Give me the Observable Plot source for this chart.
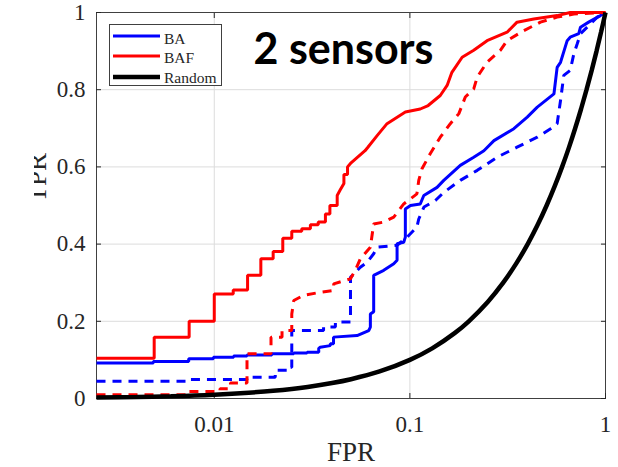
<!DOCTYPE html>
<html>
<head>
<meta charset="utf-8">
<script src="https://cdn.jsdelivr.net/npm/d3@7"></script>
<script src="https://cdn.jsdelivr.net/npm/@observablehq/plot@0.6"></script>
<style>
  html, body { margin: 0; padding: 0; background: #fff; }
  #wrap { position: relative; width: 618px; height: 467px; }
  #legend { position: absolute; left: 109px; top: 24px; width: 111px; height: 60px;
            border: 1px solid #404040; background: #fff; }
</style>
</head>
<body>
<div id="wrap"><div id="legend"></div></div>
<script>
// ---- data ----
const titleText = "2 sensors";
const xLabel = "FPR";
const yLabel = "TPR";
const xTicks = [0.01, 0.1, 1];
const xTickLabels = ["0.01", "0.1", "1"];
const yTicks = [0, 0.2, 0.4, 0.6, 0.8, 1];
const yTickLabels = ["0", "0.2", "0.4", "0.6", "0.8", "1"];
const legendNames = ["BA", "BAF", "Random"];
const legendColors = ["#0000ff", "#ff0000", "#000000"];

// BA (solid, blue)
const baSolidFpr = [0.0025,0.00488,0.00488,0.0074,0.0074,0.0099,0.0099,0.01256,0.01256,0.0147,0.0147,0.0197,0.0197,0.0255,0.0255,0.0298,0.0298,0.0342,0.0342,0.0348,0.0392,0.0392,0.0407,0.0407,0.0537,0.0616,0.0628,0.0628,0.0653,0.0653,0.0735,0.0827,0.086,0.086,0.093,0.0948,0.0948,0.1007,0.113,0.1178,0.1377,0.149,0.181,0.212,0.239,0.269,0.34,0.398,0.448,0.545,0.566,0.589,0.637,0.66,0.73,0.745,0.82,0.942,1];
const baSolidTpr = [0.092,0.092,0.096,0.096,0.103,0.103,0.107,0.107,0.11,0.11,0.113,0.113,0.116,0.116,0.118,0.118,0.12,0.12,0.13,0.133,0.137,0.142,0.142,0.159,0.163,0.176,0.185,0.219,0.225,0.319,0.332,0.349,0.358,0.401,0.405,0.418,0.491,0.5,0.504,0.526,0.547,0.565,0.604,0.625,0.642,0.668,0.699,0.729,0.755,0.789,0.858,0.871,0.927,0.936,0.945,0.962,0.975,0.992,1];

// BA (dashed, blue)
const baDashedFpr = [0.0025,0.0074,0.0074,0.0147,0.0147,0.0205,0.0205,0.024,0.024,0.0249,0.0249,0.0362,0.0362,0.0416,0.0416,0.0497,0.0497,0.0516,0.0558,0.0604,0.0653,0.0679,0.086,0.0968,0.1086,0.111,0.118,0.135,0.149,0.181,0.221,0.279,0.353,0.448,0.524,0.566,0.589,0.612,0.66,0.689,0.717,0.745,0.82,0.907,1];
const baDashedTpr = [0.045,0.045,0.049,0.049,0.055,0.055,0.073,0.073,0.081,0.081,0.176,0.176,0.185,0.185,0.198,0.198,0.314,0.322,0.34,0.353,0.375,0.392,0.397,0.418,0.444,0.465,0.496,0.513,0.534,0.565,0.591,0.625,0.651,0.677,0.699,0.712,0.772,0.837,0.85,0.893,0.919,0.945,0.966,0.988,1];

// BAF (solid, red)
const bafSolidFpr = [0.0025,0.00493,0.00493,0.00744,0.00744,0.01,0.01,0.0125,0.0125,0.0148,0.0148,0.0173,0.0173,0.02,0.02,0.0224,0.0224,0.0249,0.0249,0.028,0.028,0.031,0.031,0.034,0.034,0.037,0.037,0.039,0.039,0.0425,0.0425,0.044,0.046,0.046,0.048,0.048,0.0497,0.059,0.061,0.068,0.0764,0.0948,0.113,0.124,0.143,0.155,0.164,0.185,0.212,0.248,0.314,0.353,0.43,0.566,0.66,1];
const bafSolidTpr = [0.104,0.104,0.159,0.159,0.2,0.2,0.271,0.271,0.281,0.281,0.319,0.319,0.362,0.362,0.381,0.381,0.415,0.415,0.433,0.433,0.44,0.44,0.45,0.45,0.457,0.457,0.478,0.478,0.5,0.5,0.526,0.54,0.557,0.58,0.58,0.6,0.609,0.642,0.651,0.681,0.712,0.742,0.75,0.759,0.785,0.811,0.845,0.884,0.902,0.927,0.949,0.975,0.983,0.992,1,1];

// BAF (dashed, red)
const bafDashedFpr = [0.0025,0.0074,0.0074,0.0107,0.0107,0.0121,0.0121,0.0147,0.0147,0.0195,0.0195,0.0222,0.0222,0.0249,0.0249,0.0255,0.0285,0.0347,0.0408,0.0408,0.0497,0.0526,0.0558,0.0628,0.0653,0.0735,0.0827,0.093,0.1086,0.111,0.1153,0.127,0.143,0.161,0.178,0.192,0.212,0.221,0.248,0.29,0.314,0.382,0.465,0.566,0.689,1];
const bafDashedTpr = [0.01,0.01,0.018,0.018,0.025,0.025,0.04,0.04,0.116,0.116,0.159,0.159,0.176,0.176,0.219,0.254,0.267,0.275,0.28,0.297,0.31,0.332,0.362,0.392,0.452,0.457,0.47,0.504,0.53,0.565,0.595,0.634,0.677,0.712,0.738,0.781,0.802,0.833,0.871,0.902,0.927,0.953,0.975,0.988,0.996,1];

// Random (black)
const randomFpr = [0.0025,0.004,0.006,0.01,0.015,0.02,0.03,0.04,0.05,0.07,0.1,0.13,0.17,0.2,0.25,0.3,0.35,0.4,0.45,0.5,0.55,0.6,0.65,0.7,0.75,0.8,0.85,0.9,0.95,1];
const randomTpr = [0.0025,0.004,0.006,0.01,0.015,0.02,0.03,0.04,0.05,0.07,0.1,0.13,0.17,0.2,0.25,0.3,0.35,0.4,0.45,0.5,0.55,0.6,0.65,0.7,0.75,0.8,0.85,0.9,0.95,1];

// ---- build tables ----
const toRows = (xs, ys) => xs.map((x, i) => ({fpr: x, tpr: ys[i]}));
const series = [
  {rows: toRows(baSolidFpr, baSolidTpr), color: legendColors[0], dash: null, width: 3},
  {rows: toRows(baDashedFpr, baDashedTpr), color: legendColors[0], dash: "9,7", width: 3},
  {rows: toRows(bafSolidFpr, bafSolidTpr), color: legendColors[1], dash: null, width: 3},
  {rows: toRows(bafDashedFpr, bafDashedTpr), color: legendColors[1], dash: "9,7", width: 3},
  {rows: toRows(randomFpr, randomTpr), color: legendColors[2], dash: null, width: 4.5, curve: "catmull-rom"}
];
const xFmt = new Map(xTicks.map((t, i) => [t, xTickLabels[i]]));
const yFmt = new Map(yTicks.map((t, i) => [t, yTickLabels[i]]));
const ink = "#262626";

const chart = Plot.plot({
  width: 618,
  height: 467,
  marginLeft: 96,
  marginRight: 13,
  marginTop: 12,
  marginBottom: 69,
  style: {fontFamily: "'Liberation Serif', 'Times New Roman', serif", fontSize: "23px", background: "white", color: ink},
  x: {type: "log", domain: [0.0025, 1], label: null},
  y: {domain: [0, 1], label: null},
  marks: [
    Plot.gridX(xTicks.slice(0, 2), {stroke: "#dcdcdc", strokeOpacity: 1, strokeWidth: 1}),
    Plot.gridY(yTicks.slice(1, 5), {stroke: "#dcdcdc", strokeOpacity: 1, strokeWidth: 1}),
    Plot.frame({stroke: "#404040", strokeWidth: 1}),
    // inward ticks
    Plot.axisX(xTicks, {anchor: "bottom", tickSize: 5, dy: -5, tickFormat: () => "", label: null, stroke: ink}),
    Plot.axisX(xTicks, {anchor: "top", tickSize: 5, dy: 5, tickFormat: () => "", label: null, stroke: ink}),
    Plot.axisY(yTicks, {anchor: "left", tickSize: 5, dx: 5, tickFormat: () => "", label: null, stroke: ink}),
    Plot.axisY(yTicks, {anchor: "right", tickSize: 5, dx: -5, tickFormat: () => "", label: null, stroke: ink}),
    // tick labels
    Plot.axisX(xTicks, {anchor: "bottom", tickSize: 0, tickPadding: 17, tickFormat: d => xFmt.get(d), label: null, fill: ink}),
    Plot.axisY(yTicks, {anchor: "left", tickSize: 0, tickPadding: 11, tickFormat: d => yFmt.get(d), label: null, fill: ink}),
    // curves
    ...series.map(s => Plot.line(s.rows, {
      x: "fpr", y: "tpr", stroke: s.color, strokeWidth: s.width,
      strokeDasharray: s.dash, curve: s.curve || "linear",
      strokeLinejoin: "miter", strokeLinecap: "butt"
    })),
    // texts
    Plot.text([titleText], {frameAnchor: "top-left", dx: 157, dy: 21, lineAnchor: "top", textAnchor: "start",
      fontFamily: "Lato", fontWeight: "bold", fontSize: 43, fill: "black"}),
    Plot.text([xLabel], {frameAnchor: "bottom", dy: 62, lineAnchor: "bottom", fontSize: 27, fill: ink}),
    Plot.text([yLabel], {frameAnchor: "left", dx: -51, dy: -3, rotate: -90, lineAnchor: "bottom", fontSize: 27, fill: ink})
  ]
});

document.getElementById("wrap").prepend(chart);

// clip the y label on its left side, as in the reference
const svgNS = "http://www.w3.org/2000/svg";
const svg = d3.select(chart);
const defs = svg.append("defs");
defs.append("clipPath").attr("id", "ylabelClip").attr("clipPathUnits", "userSpaceOnUse")
  .append("rect").attr("x", 34).attr("y", 0).attr("width", 100).attr("height", 467);
const labText = Array.from(chart.querySelectorAll("text")).find(t => t.textContent === yLabel);
if (labText) {
  let grp = labText;
  while (grp.parentNode && grp.parentNode !== chart) grp = grp.parentNode;
  const w = document.createElementNS(svgNS, "g");
  w.setAttribute("clip-path", "url(#ylabelClip)");
  chart.insertBefore(w, grp);
  w.appendChild(grp);
}

// legend
const lg = d3.select("#legend").append("svg").attr("width", 111).attr("height", 60);
const rowsY = [11, 31, 52];
const baseY = [19, 38, 58];
legendNames.forEach((name, i) => {
  lg.append("line").attr("x1", 3).attr("x2", 50).attr("y1", rowsY[i]).attr("y2", rowsY[i])
    .attr("stroke", legendColors[i]).attr("stroke-width", i === 2 ? 4.5 : 3);
  lg.append("text").attr("x", 54).attr("y", baseY[i]).text(name)
    .attr("font-family", "'Liberation Serif', serif").attr("font-size", 15.5).attr("fill", ink);
});
</script>
</body>
</html>
